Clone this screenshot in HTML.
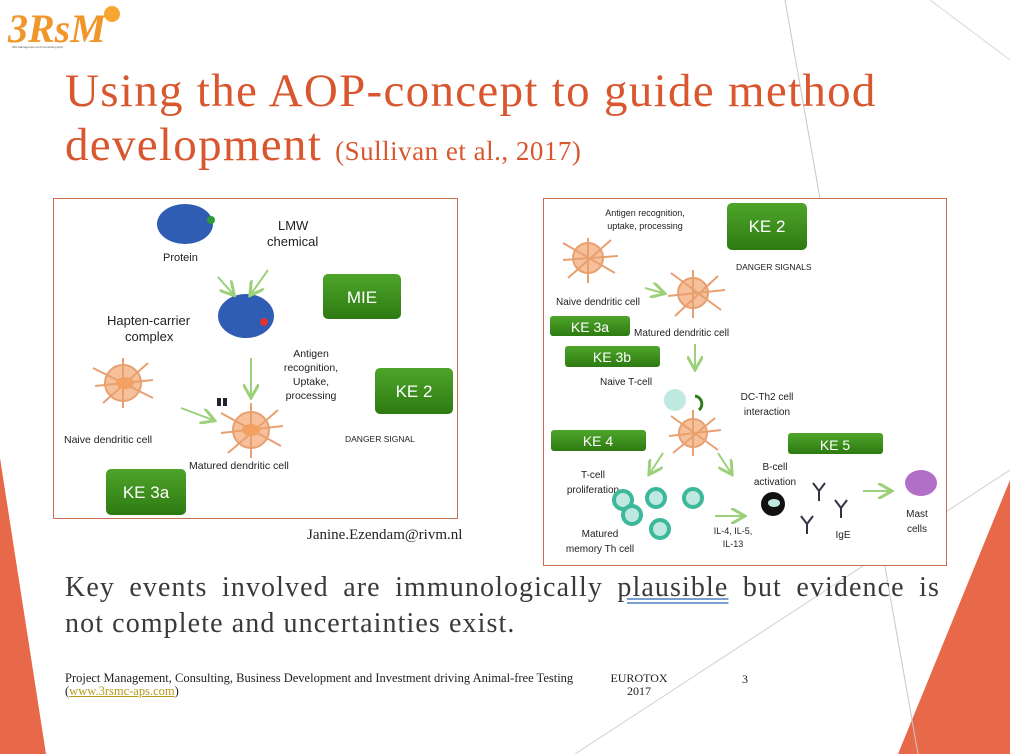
<!DOCTYPE html>
<html><head><meta charset="utf-8"><style>
html,body{margin:0;padding:0}
body{width:1010px;height:754px;position:relative;overflow:hidden;background:#fff;font-family:"Liberation Sans",sans-serif}
.abs{position:absolute}
</style></head><body>
<svg class="abs" style="left:0;top:0" width="1010" height="754">
<polygon points="0,458 46,754 0,754" fill="#e8694a"/>
<polygon points="1010,480 1010,754 898,754" fill="#e8694a"/>
<line x1="785" y1="0" x2="918" y2="754" stroke="#c8c8c8" stroke-width="1"/>
<line x1="1010" y1="470" x2="575" y2="754" stroke="#d0d0d0" stroke-width="1"/>
<line x1="930" y1="0" x2="1010" y2="60" stroke="#d8d8d8" stroke-width="1"/>
<text x="8" y="42" font-family="Liberation Serif" font-style="italic" font-weight="bold" font-size="40" fill="#f0962a">3RsM</text>
<circle cx="112" cy="14" r="8" fill="#f7a531"/>
<text x="12" y="48" font-size="3" fill="#555">3Rs Management and Consulting ApS</text>
</svg>
<div class="abs" style="left:65px;top:64px;font-family:'Liberation Serif',serif;font-size:47px;letter-spacing:1.3px;line-height:54px;color:#d9572f;white-space:nowrap">Using the AOP-concept to guide method<br>development <span style="font-size:27px;letter-spacing:0.5px">(Sullivan et al., 2017)</span></div>

<svg class="abs" style="left:53px;top:198px" width="406" height="322">
<rect x="0.5" y="0.5" width="404" height="320" fill="#fff" stroke="#c8704f"/>
<defs>
<linearGradient id="g" x1="0" y1="0" x2="0" y2="1"><stop offset="0" stop-color="#4ea52a"/><stop offset="1" stop-color="#2d7a12"/></linearGradient>
<marker id="a" markerWidth="8" markerHeight="8" refX="6" refY="4" orient="auto"><path d="M0,0 L7,4 L0,8" fill="none" stroke="#9cd07a" stroke-width="1.5"/></marker>
</defs>
<ellipse cx="132" cy="26" rx="28" ry="20" fill="#2f5db3"/><circle cx="158" cy="22" r="4" fill="#2e9a3a"/>
<ellipse cx="193" cy="118" rx="28" ry="22" fill="#2f5db3"/><circle cx="211" cy="124" r="4" fill="#d33"/>
<text x="110" y="63" font-size="11" fill="#222">Protein</text>
<text x="225" y="32" font-size="13" fill="#222">LMW</text>
<text x="214" y="48" font-size="13" fill="#222">chemical</text>
<text x="54" y="127" font-size="13" fill="#222">Hapten-carrier</text>
<text x="72" y="143" font-size="13" fill="#222">complex</text>
<line x1="165" y1="79" x2="180" y2="96" stroke="#9cd07a" stroke-width="2" marker-end="url(#a)"/>
<line x1="215" y1="72" x2="198" y2="96" stroke="#9cd07a" stroke-width="2" marker-end="url(#a)"/>
<line x1="198" y1="160" x2="198" y2="198" stroke="#9cd07a" stroke-width="2" marker-end="url(#a)"/>
<line x1="128" y1="210" x2="160" y2="222" stroke="#9cd07a" stroke-width="2" marker-end="url(#a)"/>
<g fill="#f6c09a" stroke="#e8a070" stroke-width="2"><circle cx="70" cy="185" r="18"/><path d="M40,170 L100,200 M50,205 L95,165 M70,160 L70,210 M42,188 L100,182" /></g>
<ellipse cx="72" cy="185" rx="9" ry="6" fill="#f3a060"/>
<g fill="#f6c09a" stroke="#e8a070" stroke-width="2"><circle cx="198" cy="232" r="18"/><path d="M168,215 L228,248 M175,255 L225,212 M198,205 L198,260 M168,235 L230,228"/></g>
<ellipse cx="198" cy="232" rx="9" ry="6" fill="#f3a060"/>
<rect x="164" y="200" width="4" height="8" fill="#223"/><rect x="170" y="200" width="4" height="8" fill="#223"/>
<text x="11" y="245" font-size="10.5" fill="#222">Naive dendritic cell</text>
<text x="136" y="271" font-size="10.5" fill="#222">Matured dendritic cell</text>
<text x="258" y="159" font-size="10.5" fill="#222" text-anchor="middle">Antigen</text>
<text x="258" y="173" font-size="10.5" fill="#222" text-anchor="middle">recognition,</text>
<text x="258" y="187" font-size="10.5" fill="#222" text-anchor="middle">Uptake,</text>
<text x="258" y="201" font-size="10.5" fill="#222" text-anchor="middle">processing</text>
<text x="292" y="244" font-size="8.5" fill="#222">DANGER SIGNAL</text>
<rect x="270" y="76" width="78" height="45" rx="5" fill="url(#g)"/><text x="309" y="105" font-size="17" fill="#fff" text-anchor="middle">MIE</text>
<rect x="322" y="170" width="78" height="46" rx="5" fill="url(#g)"/><text x="361" y="199" font-size="17" fill="#fff" text-anchor="middle">KE 2</text>
<rect x="53" y="271" width="80" height="46" rx="5" fill="url(#g)"/><text x="93" y="300" font-size="17" fill="#fff" text-anchor="middle">KE 3a</text>
</svg>
<div class="abs" style="left:307px;top:527px;font-family:'Liberation Serif',serif;font-size:15px;color:#222">Janine.Ezendam@rivm.nl</div>

<svg class="abs" style="left:543px;top:198px" width="405" height="370">
<rect x="0.5" y="0.5" width="403" height="367" fill="#fff" stroke="#c8704f"/>
<text x="102" y="18" font-size="9" fill="#222" text-anchor="middle">Antigen recognition,</text>
<text x="102" y="31" font-size="9" fill="#222" text-anchor="middle">uptake, processing</text>
<rect x="184" y="5" width="80" height="47" rx="5" fill="url(#g)"/><text x="224" y="34" font-size="17" fill="#fff" text-anchor="middle">KE 2</text>
<text x="193" y="72" font-size="8.5" fill="#222">DANGER SIGNALS</text>
<g fill="#f6c09a" stroke="#e8a070" stroke-width="2"><circle cx="45" cy="60" r="15"/><path d="M20,45 L72,75 M25,80 L68,42 M45,40 L45,85 M20,62 L75,58"/><circle cx="150" cy="95" r="15"/><path d="M128,75 L178,112 M132,118 L175,78 M150,72 L150,120 M125,98 L182,92"/><circle cx="150" cy="235" r="14"/><path d="M128,218 L175,252 M130,255 L172,220 M150,212 L150,258 M126,238 L178,232"/></g>
<text x="13" y="107" font-size="10" fill="#222">Naive dendritic cell</text>
<text x="91" y="138" font-size="10" fill="#222">Matured dendritic cell</text>
<rect x="7" y="118" width="80" height="20" rx="3" fill="url(#g)"/><text x="47" y="134" font-size="14" fill="#fff" text-anchor="middle">KE 3a</text>
<rect x="22" y="148" width="95" height="21" rx="3" fill="url(#g)"/><text x="69" y="164" font-size="14" fill="#fff" text-anchor="middle">KE 3b</text>
<line x1="102" y1="90" x2="120" y2="95" stroke="#9cd07a" stroke-width="2" marker-end="url(#a)"/>
<line x1="152" y1="146" x2="152" y2="170" stroke="#9cd07a" stroke-width="2" marker-end="url(#a)"/>
<text x="57" y="187" font-size="10" fill="#222">Naive T-cell</text>
<circle cx="132" cy="202" r="11" fill="#bfe8e0"/>
<path d="M152,198 a8,8 0 0 1 4,14" fill="none" stroke="#2c7a1a" stroke-width="3"/>
<text x="224" y="202" font-size="10" fill="#222" text-anchor="middle">DC-Th2 cell</text>
<text x="224" y="217" font-size="10" fill="#222" text-anchor="middle">interaction</text>
<rect x="8" y="232" width="95" height="21" rx="3" fill="url(#g)"/><text x="55" y="248" font-size="14" fill="#fff" text-anchor="middle">KE 4</text>
<rect x="245" y="235" width="95" height="21" rx="3" fill="url(#g)"/><text x="292" y="252" font-size="14" fill="#fff" text-anchor="middle">KE 5</text>
<line x1="120" y1="255" x2="107" y2="275" stroke="#9cd07a" stroke-width="2" marker-end="url(#a)"/>
<line x1="175" y1="255" x2="188" y2="275" stroke="#9cd07a" stroke-width="2" marker-end="url(#a)"/>
<text x="50" y="280" font-size="10" fill="#222" text-anchor="middle">T-cell</text>
<text x="50" y="295" font-size="10" fill="#222" text-anchor="middle">proliferation</text>
<g fill="#bfe8e0" stroke="#3cb89a" stroke-width="4"><circle cx="80" cy="302" r="9"/><circle cx="89" cy="317" r="9"/><circle cx="113" cy="300" r="9"/><circle cx="150" cy="300" r="9"/><circle cx="117" cy="331" r="9"/></g>
<text x="57" y="339" font-size="10" fill="#222" text-anchor="middle">Matured</text>
<text x="57" y="354" font-size="10" fill="#222" text-anchor="middle">memory Th cell</text>
<line x1="172" y1="318" x2="200" y2="318" stroke="#9cd07a" stroke-width="2" marker-end="url(#a)"/>
<text x="190" y="336" font-size="9" fill="#222" text-anchor="middle">IL-4, IL-5,</text>
<text x="190" y="349" font-size="9" fill="#222" text-anchor="middle">IL-13</text>
<text x="232" y="272" font-size="10" fill="#222" text-anchor="middle">B-cell</text>
<text x="232" y="287" font-size="10" fill="#222" text-anchor="middle">activation</text>
<circle cx="230" cy="306" r="12" fill="#111"/><ellipse cx="231" cy="305" rx="6" ry="4" fill="#bfe8e0"/>
<g stroke="#334" stroke-width="2" fill="none"><path d="M270,285 l6,8 l6,-8 M276,293 l0,10"/><path d="M258,318 l6,8 l6,-8 M264,326 l0,10"/><path d="M292,302 l6,8 l6,-8 M298,310 l0,10"/></g>
<text x="300" y="340" font-size="10" fill="#222" text-anchor="middle">IgE</text>
<line x1="320" y1="293" x2="347" y2="293" stroke="#9cd07a" stroke-width="2" marker-end="url(#a)"/>
<ellipse cx="378" cy="285" rx="16" ry="13" fill="#b26fc8"/>
<text x="374" y="319" font-size="10" fill="#222" text-anchor="middle">Mast</text>
<text x="374" y="334" font-size="10" fill="#222" text-anchor="middle">cells</text>
</svg>

<div class="abs" style="left:65px;top:570px;width:875px;font-family:'Liberation Serif',serif;font-size:28px;letter-spacing:1.1px;line-height:36px;color:#3a3a3a;text-align:justify;text-align-last:justify;white-space:nowrap">Key events involved are immunologically <span style="text-decoration:underline double #7a9fd0">plausible</span> but evidence is</div>
<div class="abs" style="left:65px;top:606px;font-family:'Liberation Serif',serif;font-size:28px;letter-spacing:1.1px;line-height:36px;color:#3a3a3a;white-space:nowrap">not complete and uncertainties exist.</div>
<div class="abs" style="left:65px;top:672px;font-family:'Liberation Serif',serif;font-size:12.5px;line-height:13px;color:#222;letter-spacing:0px;white-space:nowrap">Project Management, Consulting, Business Development and Investment driving Animal-free Testing<br>(<span style="color:#b59a1a;text-decoration:underline">www.3rsmc-aps.com</span>)</div>
<div class="abs" style="left:606px;top:672px;width:66px;text-align:center;font-family:'Liberation Serif',serif;font-size:12px;line-height:13px;color:#222">EUROTOX<br>2017</div>
<div class="abs" style="left:742px;top:672px;font-family:'Liberation Serif',serif;font-size:12px;color:#222">3</div>
</body></html>
